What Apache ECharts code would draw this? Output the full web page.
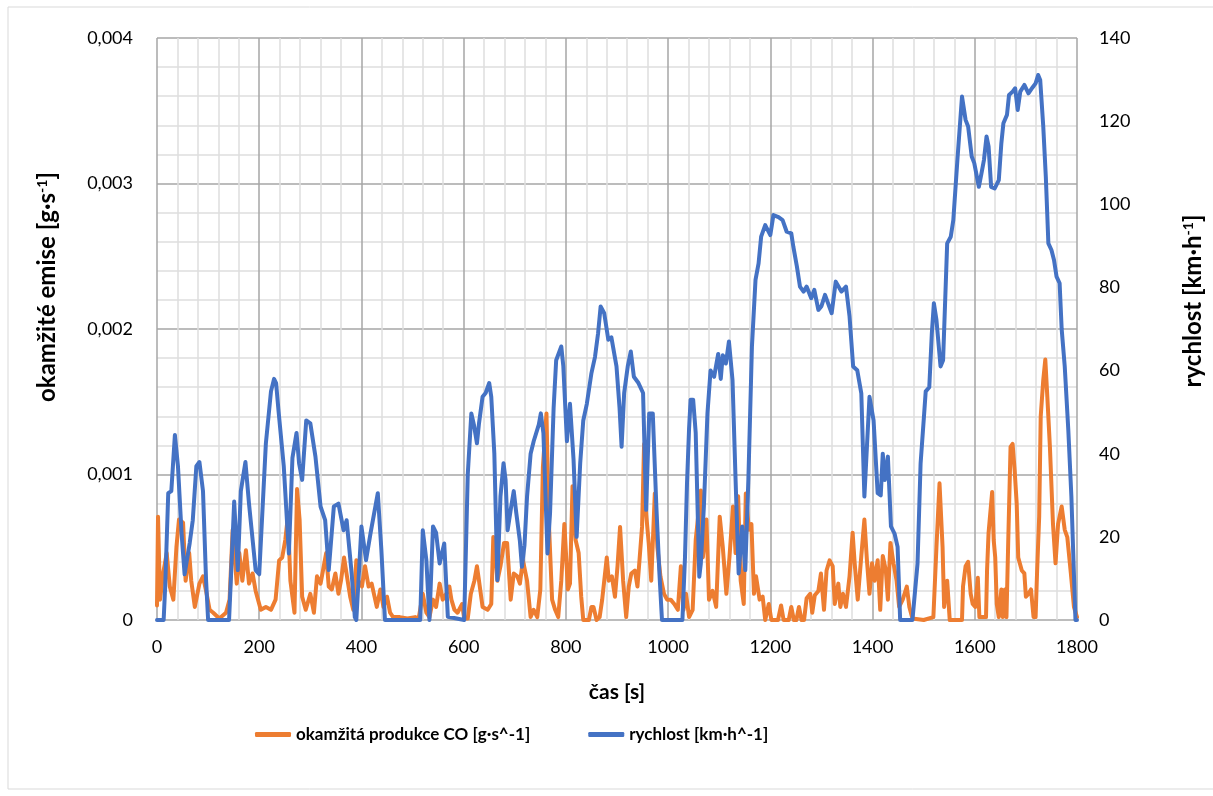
<!DOCTYPE html>
<html>
<head>
<meta charset="utf-8">
<script src="https://cdn.jsdelivr.net/npm/echarts@6/dist/echarts.min.js"></script>
<style>
html,body{margin:0;padding:0;background:#fff;}
#chart{width:1213px;height:796px;}
</style>
</head>
<body>
<div id="chart"></div>
<script>
// ---- data ----
const xTicks = [0, 200, 400, 600, 800, 1000, 1200, 1400, 1600, 1800];
const leftTicks = ['0', '0,001', '0,002', '0,003', '0,004'];
const rightTicks = [0, 20, 40, 60, 80, 100, 120, 140];

// time [s] and CO production [g/s]
const coTime = [0,2,6,12,19,25,32,38,43,51,56,63,67,74,83,90,96,103,110,122,135,142,148,156,161,167,174,180,187,193,203,213,223,232,239,245,251,256,261,269,274,279,284,291,300,307,313,320,331,336,342,349,355,360,366,373,378,384,390,394,401,407,414,420,430,437,443,450,456,462,475,490,505,512,520,527,533,540,546,553,559,566,572,576,582,588,597,601,608,614,621,626,630,637,647,654,658,663,666,672,679,685,692,698,705,710,716,724,731,737,744,750,755,762,766,773,779,785,791,797,804,808,813,819,825,830,834,845,850,854,860,866,871,880,884,890,896,901,906,912,918,923,928,935,940,944,949,953,957,962,967,974,979,985,992,998,1005,1012,1019,1025,1030,1035,1041,1048,1054,1064,1068,1075,1080,1087,1094,1101,1107,1114,1120,1127,1132,1137,1142,1148,1152,1158,1163,1168,1172,1179,1185,1190,1197,1202,1215,1221,1226,1236,1241,1246,1251,1256,1261,1266,1271,1278,1282,1287,1294,1299,1305,1310,1316,1322,1326,1333,1337,1342,1348,1355,1361,1365,1371,1378,1384,1389,1394,1399,1404,1410,1415,1420,1426,1430,1435,1441,1447,1452,1459,1467,1472,1478,1500,1519,1525,1531,1537,1540,1546,1551,1575,1577,1582,1587,1592,1596,1601,1606,1609,1622,1624,1627,1634,1637,1640,1643,1647,1652,1655,1659,1662,1666,1670,1674,1678,1682,1685,1692,1697,1700,1705,1710,1715,1719,1722,1726,1729,1734,1738,1742,1747,1753,1758,1763,1770,1776,1781,1788,1794,1800];
const coValue = [0.00010,0.00071,0.00014,0.00032,0.00046,0.00023,0.00014,0.00050,0.00069,0.00067,0.00027,0.00046,0.00027,0.00009,0.00025,0.00030,0.00020,0.00007,0.00005,0.00001,0.00005,0.00014,0.00062,0.00025,0.00046,0.00027,0.00048,0.00025,0.00032,0.00020,0.00007,0.00009,0.00007,0.00014,0.00041,0.00043,0.00055,0.00071,0.00027,0.00005,0.00090,0.00069,0.00016,0.00007,0.00018,0.00005,0.00030,0.00025,0.00046,0.00023,0.00021,0.00032,0.00018,0.00027,0.00043,0.00027,0.00016,0.00007,0.00041,0.00027,0.00023,0.00037,0.00023,0.00025,0.00009,0.00021,0.00009,0.00016,0.00005,0.00002,0.00002,0.00001,0.00002,0.00001,0.00018,0.00005,0.00002,0.00014,0.00009,0.00025,0.00014,0.00018,0.00023,0.00014,0.00007,0.00005,0.00011,0.00001,0.00001,0.00018,0.00027,0.00037,0.00027,0.00009,0.00007,0.00011,0.00057,0.00041,0.00027,0.00037,0.00053,0.00053,0.00014,0.00032,0.00030,0.00025,0.00041,0.00027,0.00002,0.00007,0.00002,0.00021,0.00105,0.00142,0.00073,0.00014,0.00007,0.00002,0.00027,0.00066,0.00021,0.00025,0.00092,0.00055,0.00046,0.00016,0,0,0.00009,0.00009,0,0.00002,0.00014,0.00043,0.00027,0.00030,0.00016,0.00037,0.00064,0.00027,0.00002,0.00023,0.00032,0.00034,0.00023,0.00041,0.00064,0.00121,0.00073,0.00053,0.00027,0.00087,0.00050,0.00030,0.00018,0.00014,0.00014,0.00011,0.00007,0.00037,0.00007,0.00018,0.00002,0.00007,0.00055,0.00089,0.00043,0.00069,0.00014,0.00020,0.00009,0.00071,0.00050,0.00018,0.00043,0.00078,0.00046,0.00085,0.00027,0.00011,0.00087,0.00062,0.00066,0.00018,0.00030,0.00014,0.00016,0,0.00011,0,0,0.00010,0,0,0.00009,0,0,0.00009,0,0,0.00015,0.00018,0.00005,0.00017,0.00020,0.00032,0.00007,0.00034,0.00041,0.00037,0.00011,0.00025,0.00009,0.00018,0.00009,0.00030,0.00060,0.00039,0.00014,0.00044,0.00069,0.00041,0.00018,0.00039,0.00027,0.00041,0.00007,0.00044,0.00034,0.00014,0.00053,0.00039,0.00027,0.00009,0.00014,0.00023,0.00009,0.00001,0,0.00002,0.00050,0.00094,0.00050,0.00009,0.00027,0,0,0.00023,0.00037,0.00040,0.00018,0.00011,0.00009,0.00029,0.00002,0.00002,0.00034,0.00060,0.00088,0.00055,0.00043,0.00011,0.00002,0.00021,0.00002,0.00021,0.00002,0.00062,0.00119,0.00121,0.00103,0.00080,0.00043,0.00034,0.00032,0.00016,0.00018,0.00021,0.00002,0.00002,0.00034,0.00071,0.00140,0.00165,0.00179,0.00153,0.00119,0.00066,0.00039,0.00066,0.00078,0.00062,0.00057,0.00032,0.00009,0.00002];

// time [s] and speed [km/h]
const speedTime = [0,13,16,22,28,35,41,48,54,64,70,77,83,90,96,100,141,146,151,158,164,173,180,193,200,213,223,229,233,238,248,258,265,273,278,284,292,300,310,320,329,336,346,355,365,371,381,387,390,400,409,418,432,439,446,515,520,527,533,540,546,553,562,569,601,608,615,620,626,630,637,643,650,654,660,666,672,678,682,686,693,698,703,710,714,719,724,731,737,747,751,756,764,769,776,781,791,795,802,808,815,821,828,834,841,850,857,863,868,875,883,889,899,905,909,914,921,927,933,942,951,957,963,970,977,983,988,1028,1033,1037,1041,1044,1049,1054,1061,1064,1070,1077,1083,1090,1098,1103,1107,1113,1119,1126,1132,1138,1145,1151,1157,1164,1171,1177,1182,1190,1200,1206,1216,1224,1232,1241,1245,1252,1258,1265,1271,1280,1286,1294,1300,1307,1320,1328,1339,1348,1355,1362,1370,1378,1384,1394,1402,1410,1416,1420,1424,1430,1436,1443,1449,1454,1478,1488,1494,1501,1504,1511,1516,1520,1525,1533,1538,1546,1553,1558,1566,1575,1582,1587,1594,1599,1608,1613,1618,1623,1627,1632,1639,1647,1652,1656,1663,1667,1674,1679,1684,1689,1697,1705,1713,1719,1724,1728,1734,1739,1744,1750,1755,1760,1766,1770,1776,1783,1789,1792,1797,1800];
const speedValue = [0,0,8,30.5,31,44.5,37,21,11,18.5,24,37,38,31,9.6,0,0,14,28.5,12,31,38,28,12,11,42.5,55,58,57,50,37,16,39,45,37.7,33.7,48,47.3,39.3,27.3,24,12,27.3,28,21.6,24,11,0.7,0,22.5,14.4,21,30.5,16.8,0,0,21.6,14.4,0,22.5,21,13.6,18.4,0.8,0,35,49.7,47,42.5,47.3,53.7,54.6,57,53.7,40,9.6,29.7,37.7,33.7,21.6,27.3,31,25.7,19,12.8,18,29.7,40,43,47,49.7,45,16,25.7,51,62.5,65.8,61,43,52,38.5,20,37.7,48,52,59.4,63.3,69,75.4,73.8,67.4,68,61,51,41.7,54.6,61,64.6,58.5,57,54.6,26.5,49.7,49.7,27.3,11.2,0,0,15,33,46,53,53,45,10.4,13.6,27.3,49.7,60,58.5,64,58,63.7,61.7,67,57.7,33.7,11.2,22.5,12,33.7,65.8,81.8,85.8,92.2,95,92.6,97.4,96.9,96.2,93.4,93,89.8,85,80.2,79,80.2,77.4,79.4,74.6,75.5,78.2,73.8,81.4,79,80.2,73,61,60.1,54.5,29.7,53.7,48,30.5,30,40,33.7,39.3,22.5,20.8,17.6,0,0,13.6,37.7,49.7,55,56,69,76.2,72.2,61,62.5,90.6,92.2,96.2,110.7,125.9,120.3,118.7,111.5,109.9,104.2,107.4,110.7,116.3,113.9,104.2,103.8,105.8,114.7,119.5,121.5,126.3,127.1,127.9,122.7,127.1,128.7,126.7,128.1,129.1,131.1,129.9,118.7,106.6,90.6,89,86.6,82.6,81,70,61,45.7,29.7,18.4,0,0];

const coName = 'okamžitá produkce CO [g·s^-1]';
const speedName = 'rychlost [km·h^-1]';

// ---- chart ----
const FONT = 'Lato, "Open Sans", sans-serif';
const chart = echarts.init(document.getElementById('chart'), null, {renderer: 'canvas'});
const coData = coTime.map((t, i) => [t, coValue[i]]);
const speedData = speedTime.map((t, i) => [t, speedValue[i]]);
const supStyle = {fontFamily: FONT, fontWeight: 'bold', fontSize: 14, color: '#000', verticalAlign: 'top', padding: [0, 0, 10, 0]};

chart.setOption({
  animation: false,
  backgroundColor: '#ffffff',
  textStyle: {fontFamily: FONT},
  graphic: [{
    type: 'rect', silent: true, z: -10,
    shape: {x: 8, y: 7, width: 1220, height: 782},
    style: {fill: 'none', stroke: '#d9d9d9', lineWidth: 1}
  }],
  grid: {left: 157, right: 128, top: 38, bottom: 176, containLabel: false},
  legend: {
    left: 250, top: 721,
    itemWidth: 36, itemHeight: 5, itemGap: 58,
    icon: 'roundRect',
    textStyle: {fontFamily: FONT, fontWeight: 'bold', fontSize: 17, color: '#000'},
    data: [coName, speedName]
  },
  xAxis: {
    type: 'value', min: 0, max: 1800, interval: 200,
    name: 'čas [s]', nameLocation: 'middle', nameGap: 62,
    nameTextStyle: {fontFamily: FONT, fontWeight: 'bold', fontSize: 21, color: '#000'},
    axisLine: {show: false}, axisTick: {show: false},
    axisLabel: {margin: 18, fontSize: 18, color: '#000', fontFamily: FONT,
      formatter: v => xTicks.indexOf(v) >= 0 ? String(v) : ''},
    splitLine: {show: true, lineStyle: {color: '#a6a6a6', width: 1.5}},
    minorTick: {show: false, splitNumber: 5},
    minorSplitLine: {show: true, lineStyle: {color: '#dedede', width: 1.5}}
  },
  yAxis: [{
    type: 'value', min: 0, max: 0.004, interval: 0.001,
    name: 'okamžité emise [g·s{sup|-1}]', nameLocation: 'middle', nameGap: 98, nameRotate: 90,
    nameTextStyle: {fontFamily: FONT, fontWeight: 'bold', fontSize: 24, color: '#000',
      padding: [0, 0, 0, 84], rich: {sup: supStyle}},
    axisLine: {show: false}, axisTick: {show: false},
    axisLabel: {margin: 24, fontSize: 18, color: '#000', fontFamily: FONT,
      formatter: v => leftTicks[Math.round(v / 0.001)]},
    splitLine: {show: true, lineStyle: {color: '#a6a6a6', width: 1.5}},
    minorTick: {show: false, splitNumber: 5},
    minorSplitLine: {show: true, lineStyle: {color: '#dedede', width: 1.5}}
  }, {
    type: 'value', min: 0, max: 140, interval: 20, position: 'right',
    name: 'rychlost [km·h{sup|-1}]', nameLocation: 'middle', nameGap: 104, nameRotate: 90,
    nameTextStyle: {fontFamily: FONT, fontWeight: 'bold', fontSize: 24, color: '#000',
      padding: [0, 0, 0, 56], rich: {sup: supStyle}},
    axisLine: {show: false}, axisTick: {show: false},
    axisLabel: {margin: 22, fontSize: 18, color: '#000', fontFamily: FONT,
      formatter: v => rightTicks.indexOf(v) >= 0 ? String(v) : ''},
    splitLine: {show: false}
  }],
  series: [{
    name: coName, type: 'line', yAxisIndex: 0, data: coData,
    showSymbol: false, symbol: 'none', z: 2,
    lineStyle: {color: '#ED7D31', width: 4, join: 'round', cap: 'round'},
    itemStyle: {color: '#ED7D31'}
  }, {
    name: speedName, type: 'line', yAxisIndex: 1, data: speedData,
    showSymbol: false, symbol: 'none', z: 3,
    lineStyle: {color: '#4472C4', width: 4, join: 'round', cap: 'round'},
    itemStyle: {color: '#4472C4'}
  }]
});
</script>
</body>
</html>
